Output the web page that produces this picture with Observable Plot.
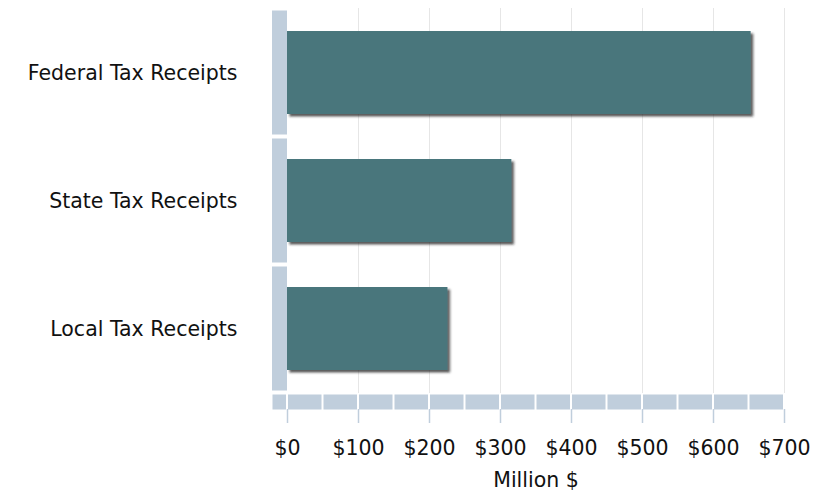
<!DOCTYPE html>
<html>
<head>
<meta charset="utf-8">
<script src="https://cdn.jsdelivr.net/npm/d3@7"></script>
<script src="https://cdn.jsdelivr.net/npm/@observablehq/plot@0.6"></script>
<style>
  html, body { margin: 0; padding: 0; background: #ffffff; }
  #chart { width: 828px; height: 493px; }
</style>
</head>
<body>
<div id="chart"></div>
<script>
// ---- data ----
const categories = ["Federal Tax Receipts", "State Tax Receipts", "Local Tax Receipts"];
const values = [653, 316, 226];
const xTicks = [0, 100, 200, 300, 400, 500, 600, 700];
const gridTicks = [100, 200, 300, 400, 500, 600, 700];
const bandEdges = [0, 50, 100, 150, 200, 250, 300, 350, 400, 450, 500, 550, 600, 650, 700];
const axisTitle = "Million $";

const data = categories.map((c, i) => ({category: c, value: values[i]}));
const segments = bandEdges.slice(0, -1).map((a, i) => ({a, b: bandEdges[i + 1]}));

const barColor = "#4a767c";
const bandColor = "#c0cedc";
const font = "'DejaVu Sans', Verdana, sans-serif";
const fs = 20.5;

const chart = Plot.plot({
  width: 828,
  height: 493,
  marginLeft: 287,
  marginRight: 44,
  marginTop: 8,
  marginBottom: 100,
  style: {fontFamily: font, fontSize: fs + "px", background: "#ffffff", color: "#111"},
  x: {domain: [0, 700]},
  y: {domain: categories, paddingInner: 0.35, paddingOuter: 0.175},
  marks: [
    Plot.ruleX(gridTicks, {x: d => d, stroke: "#e6e6e6", strokeWidth: 1}),
    // left vertical band segments
    Plot.barX(categories, {x1: () => 0, x2: () => 0, y: d => d, fill: bandColor, insetLeft: -15, insetRight: 0, insetTop: -20.5, insetBottom: -20.5}),
    // bottom horizontal band segments
    Plot.rect(segments, {x1: "a", x2: "b", fill: bandColor, insetLeft: 1, insetRight: 1, insetTop: 386.5, insetBottom: -16.5}),
    Plot.rect([0], {x1: () => 0, x2: () => 0, fill: bandColor, insetLeft: -14.5, insetRight: 1, insetTop: 386.5, insetBottom: -16.5}),
    Plot.barX(data, {x: "value", y: "category", fill: barColor}),
    Plot.axisX({ticks: xTicks, tickSize: 14, dy: 16, tickPadding: 17, stroke: bandColor, strokeWidth: 1.5, fill: "#111", fontSize: fs, tickFormat: d => "$" + d, label: null}),
    Plot.axisY({tickSize: 0, tickPadding: 50, fontSize: fs, fill: "#111", label: null}),
    Plot.text([axisTitle], {text: d => d, frameAnchor: "bottom", dy: 93, fontSize: fs, fill: "#111"})
  ]
});

// drop shadow for the bars
const svg = d3.select(chart.tagName.toLowerCase() === "svg" ? chart : chart.querySelector("svg"));
const defs = svg.insert("defs", ":first-child");
const f = defs.append("filter").attr("id", "barShadow").attr("x", "-5%").attr("y", "-10%").attr("width", "115%").attr("height", "130%");
f.append("feDropShadow").attr("dx", 2.5).attr("dy", 2.5).attr("stdDeviation", 1.3).attr("flood-color", "#222").attr("flood-opacity", 0.75);
svg.selectAll("g[aria-label='bar']").filter((d, i, nodes) => i === nodes.length - 1).attr("filter", "url(#barShadow)");

document.getElementById("chart").appendChild(chart);
</script>
</body>
</html>
